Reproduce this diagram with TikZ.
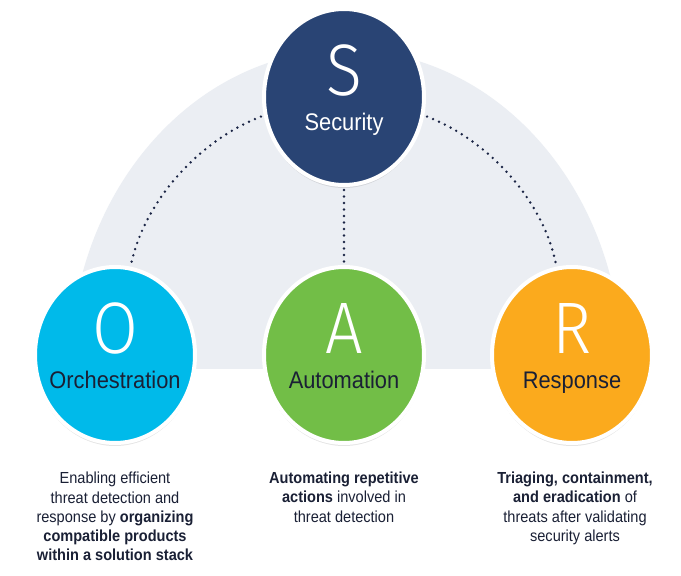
\documentclass[tikz,border=0pt]{standalone}
\usepackage{fontspec}
\setmainfont{Liberation Sans}[FakeStretch=0.91]
\newfontfamily\thinfont{Fira Sans Light}[FakeStretch=0.91]
\usetikzlibrary{shapes.geometric,shadows,calc}
\definecolor{archgray}{HTML}{EBEEF3}
\definecolor{navy}{HTML}{294474}
\definecolor{cyanc}{HTML}{00BAEA}
\definecolor{greenc}{HTML}{72BE47}
\definecolor{orangec}{HTML}{FBAA1D}
\definecolor{textdark}{HTML}{1A2035}
\definecolor{dotc}{HTML}{1B2545}
\begin{document}
\begin{tikzpicture}[x=1pt,y=-1pt,
  disc/.style={ellipse, minimum width=160pt, minimum height=176pt, inner sep=0pt,
    draw=white, line width=4pt,
    drop shadow={shadow xshift=0pt, shadow yshift=-3pt, opacity=0.10, fill=black}},
  bigletter/.style={font=\thinfont\fontsize{73}{73}\selectfont, text=white, inner sep=0pt},
  wordlbl/.style={font=\fontsize{24}{24}\selectfont, inner sep=0pt, anchor=base},
  desc/.style={font=\fontsize{16}{19.2}\selectfont, text=textdark, align=center, anchor=north, inner sep=0pt},
  dots/.style={draw=dotc, line width=2.7pt, line cap=round, dash pattern=on 0pt off 6.5pt}
]
\useasboundingbox (0,0) rectangle (681,576);
\fill[white] (0,0) rectangle (681,576);
\begin{scope}
  \clip (0,0) rectangle (681,368);
  \fill[archgray] (346,368) ellipse [x radius=276, y radius=318];
\end{scope}

\node[disc, fill=navy]    (S) at (344,97)  {};
\node[disc, fill=cyanc]   (O) at (115,355) {};
\node[disc, fill=greenc]  (A) at (344,355) {};
\node[disc, fill=orangec] (R) at (572,355) {};

\draw[dots, shorten <=3pt, shorten >=3pt] (S.193) .. controls (200,140) and (145,200) .. (O.80);
\draw[dots, shorten <=3pt, shorten >=3pt] (S.347) .. controls (488,140) and (543,200) .. (R.100);
\draw[dots, shorten <=3pt, shorten >=3pt] (S.south) -- (A.north);

\node[bigletter] (Sl) at ($(S)+(0,-27)$) {S};
\node[bigletter] (Ol) at ($(O)+(0,-27)$) {O};
\node[bigletter] (Al) at ($(A)+(0,-27)$) {A};
\node[bigletter] (Rl) at ($(R)+(0,-27)$) {R};

\node[wordlbl, text=white]    (St) at ($(S)+(0,33)$) {Security};
\node[wordlbl, text=textdark] (Ot) at ($(O)+(0,33)$) {Orchestration};
\node[wordlbl, text=textdark] (At) at ($(A)+(0,33)$) {Automation};
\node[wordlbl, text=textdark] (Rt) at ($(R)+(0,33)$) {Response};

\node[desc] (Od) at (115,472) {Enabling efficient\\threat detection and\\response by \textbf{organizing}\\\textbf{compatible products}\\\textbf{within a solution stack}};
\node[desc] (Ad) at (344,472) {\textbf{Automating repetitive}\\\textbf{actions} involved in\\threat detection};
\node[desc] (Rd) at (575,472) {\textbf{Triaging, containment,}\\\textbf{and eradication} of\\threats after validating\\security alerts};
\end{tikzpicture}
\end{document}
